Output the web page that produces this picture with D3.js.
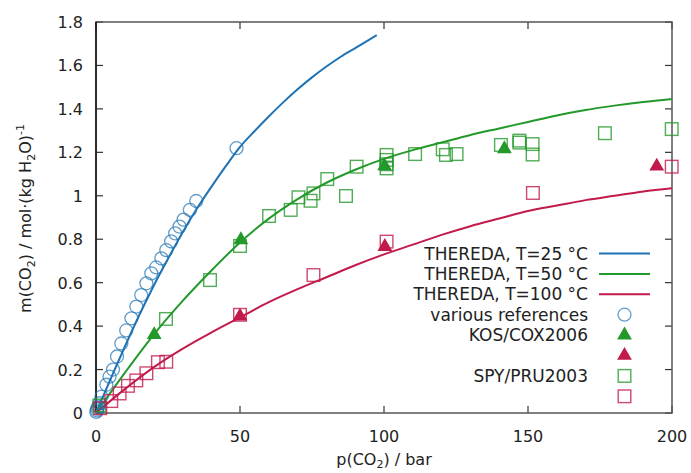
<!DOCTYPE html>
<html>
<head>
<meta charset="utf-8">
<script src="https://cdn.jsdelivr.net/npm/d3@7"></script>
<style>
  body { margin: 0; background: #fff; }
  svg text { font-family: "DejaVu Sans", sans-serif; font-size: 16px; fill: #222; }
  svg text.legend { font-size: 17px; }
</style>
</head>
<body>
<svg id="chart" width="691" height="473"></svg>
<script>
// THEREDA model curves, [p / bar, m / mol kg-1]
const thereda25 = [[0,0],[5,0.155],[10,0.305],[15,0.45],[20,0.585],[25,0.71],[30,0.83],[35,0.94],[40,1.04],[45,1.135],[50,1.225],[55,1.297],[60,1.365],[65,1.43],[70,1.49],[75,1.545],[80,1.595],[85,1.64],[90,1.68],[97.5,1.74]];
const thereda50 = [[0,0],[10,0.185],[20,0.36],[30,0.515],[40,0.655],[50,0.785],[60,0.895],[70,0.985],[80,1.06],[90,1.12],[100,1.17],[110,1.21],[120,1.245],[130,1.28],[140,1.31],[150,1.34],[160,1.37],[170,1.395],[180,1.415],[190,1.432],[200,1.446]];
const thereda100 = [[0,0],[10,0.11],[20,0.21],[30,0.295],[40,0.37],[50,0.44],[60,0.51],[70,0.57],[80,0.625],[90,0.68],[100,0.73],[110,0.775],[120,0.82],[130,0.86],[140,0.895],[150,0.93],[160,0.955],[170,0.98],[180,1.0],[190,1.02],[200,1.035]];

// measured data
const variousRefs25 = [[0.1,0.005],[0.3,0.012],[0.5,0.02],[0.8,0.03],[1.2,0.045],[1.9,0.075],[3.6,0.13],[4.7,0.167],[5.9,0.2],[7.3,0.26],[8.8,0.32],[10.5,0.38],[12.3,0.436],[14,0.49],[15.7,0.543],[17.5,0.597],[19.2,0.643],[20.9,0.67],[22.7,0.712],[24.4,0.75],[26.1,0.79],[27.5,0.827],[29,0.858],[30.4,0.89],[32.6,0.935],[34.8,0.976],[48.8,1.219]];
const kosCox50 = [[20.2,0.36],[50.3,0.797],[100.2,1.137],[141.8,1.216]];
const kosCox100 = [[50,0.445],[100.3,0.766],[194.7,1.136]];
const spyPru50 = [[1.2,0.035],[24.3,0.433],[39.6,0.612],[50,0.769],[60.1,0.907],[67.6,0.935],[70.3,0.993],[74.5,0.977],[75.5,1.011],[80.3,1.077],[86.8,0.999],[90.5,1.134],[100.9,1.188],[100.9,1.165],[100.9,1.145],[100.9,1.126],[110.8,1.192],[120.4,1.214],[121.5,1.188],[125.2,1.192],[140.6,1.234],[147,1.254],[147,1.245],[151.6,1.238],[151.6,1.19],[176.7,1.288],[199.9,1.307]];
const spyPru100 = [[1.5,0.022],[5.3,0.055],[8.2,0.09],[11.1,0.125],[14,0.15],[17.5,0.183],[21.5,0.234],[24.4,0.236],[50,0.452],[75.5,0.635],[100.9,0.789],[151.7,1.013],[199.9,1.134]];

const xTicks = [0, 50, 100, 150, 200];
const yTicks = [0, 0.2, 0.4, 0.6, 0.8, 1, 1.2, 1.4, 1.6, 1.8];

const blue = '#1f73b4', green = '#23992b', red = '#c21a4a';

const svg = d3.select('#chart');
const margin = {left: 96, right: 19, top: 22, bottom: 60};
const W = 691, H = 473;

const x = d3.scaleLinear().domain([0, 200]).range([margin.left, W - margin.right]);
const y = d3.scaleLinear().domain([0, 1.8]).range([H - margin.bottom, margin.top]);

const x0 = x.range()[0], x1 = x.range()[1];
const y0 = y.range()[0], y1 = y.range()[1];

// ticks (mirrored, pointing inward)
const tickLen = 7;
const tickG = svg.append('g').attr('stroke', '#333').attr('stroke-width', 1.2);
xTicks.forEach(t => {
  tickG.append('line').attr('x1', x(t)).attr('x2', x(t)).attr('y1', y0).attr('y2', y0 - tickLen);
  tickG.append('line').attr('x1', x(t)).attr('x2', x(t)).attr('y1', y1).attr('y2', y1 + tickLen);
});
yTicks.forEach(t => {
  tickG.append('line').attr('x1', x0).attr('x2', x0 + tickLen).attr('y1', y(t)).attr('y2', y(t));
  tickG.append('line').attr('x1', x1).attr('x2', x1 - tickLen).attr('y1', y(t)).attr('y2', y(t));
});

// border
svg.append('rect')
  .attr('x', x0).attr('y', y1)
  .attr('width', x1 - x0).attr('height', y0 - y1)
  .attr('fill', 'none').attr('stroke', '#555').attr('stroke-width', 1.5);
svg.append('line').attr('x1', x0).attr('x2', x0).attr('y1', y1).attr('y2', y0)
  .attr('stroke', '#111').attr('stroke-width', 1.5);

// tick labels
svg.append('g').selectAll('text').data(xTicks).join('text')
  .attr('x', d => x(d)).attr('y', y0 + 29)
  .attr('text-anchor', 'middle')
  .text(d => d);
svg.append('g').selectAll('text').data(yTicks).join('text')
  .attr('x', x0 - 13).attr('y', d => y(d) + 6)
  .attr('text-anchor', 'end')
  .text(d => d3.format('~g')(d));

// axis labels
const xl = svg.append('text').attr('x', (x0 + x1) / 2).attr('y', 465).attr('text-anchor', 'middle');
xl.append('tspan').text('p(CO');
xl.append('tspan').attr('dy', 3).style('font-size', '11px').text('2');
xl.append('tspan').attr('dy', -3).text(') / bar');

const yl = svg.append('text')
  .attr('transform', `translate(31,${(y0 + y1) / 2 + 1}) rotate(-90)`)
  .attr('text-anchor', 'middle');
yl.append('tspan').text('m(CO');
yl.append('tspan').attr('dy', 4).style('font-size', '11px').text('2');
yl.append('tspan').attr('dy', -4).text(') / mol·(kg H');
yl.append('tspan').attr('dy', 4).style('font-size', '11px').text('2');
yl.append('tspan').attr('dy', -4).text('O)');
yl.append('tspan').attr('dy', -7).style('font-size', '11px').text('-1');

// model lines
const line = d3.line().x(d => x(d[0])).y(d => y(d[1])).curve(d3.curveMonotoneX);
[[thereda25, blue], [thereda50, green], [thereda100, red]].forEach(([data, col]) => {
  svg.append('path').datum(data)
    .attr('d', line)
    .attr('fill', 'none').attr('stroke', col).attr('stroke-width', 2);
});

// markers
const tri = d3.symbol().type(d3.symbolTriangle).size(95);
function circles(data, col) {
  svg.append('g').selectAll('circle').data(data).join('circle')
    .attr('cx', d => x(d[0])).attr('cy', d => y(d[1])).attr('r', 6.5)
    .attr('fill', 'none').attr('stroke', col).attr('stroke-width', 1.3).attr('stroke-opacity', 0.7);
}
function triangles(data, col) {
  svg.append('g').selectAll('path').data(data).join('path')
    .attr('d', tri)
    .attr('transform', d => `translate(${x(d[0])},${y(d[1])})`)
    .attr('fill', col);
}
function squares(data, col) {
  svg.append('g').selectAll('rect').data(data).join('rect')
    .attr('x', d => x(d[0]) - 6.3).attr('y', d => y(d[1]) - 6.3)
    .attr('width', 12.6).attr('height', 12.6)
    .attr('fill', 'none').attr('stroke', col).attr('stroke-width', 1.4).attr('stroke-opacity', 0.8);
}
circles(variousRefs25, blue);
triangles(kosCox50, green);
triangles(kosCox100, red);
squares(spyPru50, green);
squares(spyPru100, red);

// legend
const legend = [
  {label: 'THEREDA, T=25 °C', type: 'line', col: blue},
  {label: 'THEREDA, T=50 °C', type: 'line', col: green},
  {label: 'THEREDA, T=100 °C', type: 'line', col: red},
  {label: 'various references', type: 'circle', col: blue},
  {label: 'KOS/COX2006', type: 'tri', col: green},
  {label: '', type: 'tri', col: red},
  {label: 'SPY/PRU2003', type: 'square', col: green},
  {label: '', type: 'square', col: red}
];
const lgX = 588, lgY = 253.5, lgStep = 20.4, mkX = 624.5;
legend.forEach((d, i) => {
  const cy = lgY + i * lgStep;
  svg.append('text').attr('class', 'legend').attr('x', lgX).attr('y', cy + 6).attr('text-anchor', 'end').text(d.label);
  if (d.type === 'line') {
    svg.append('line').attr('x1', 599).attr('x2', 650).attr('y1', cy).attr('y2', cy)
      .attr('stroke', d.col).attr('stroke-width', 2);
  } else if (d.type === 'circle') {
    svg.append('circle').attr('cx', mkX).attr('cy', cy).attr('r', 6.5)
      .attr('fill', 'none').attr('stroke', d.col).attr('stroke-width', 1.3).attr('stroke-opacity', 0.7);
  } else if (d.type === 'tri') {
    svg.append('path').attr('d', tri).attr('transform', `translate(${mkX},${cy})`).attr('fill', d.col);
  } else {
    svg.append('rect').attr('x', mkX - 6.3).attr('y', cy - 6.3).attr('width', 12.6).attr('height', 12.6)
      .attr('fill', 'none').attr('stroke', d.col).attr('stroke-width', 1.4).attr('stroke-opacity', 0.8);
  }
});
</script>
</body>
</html>
